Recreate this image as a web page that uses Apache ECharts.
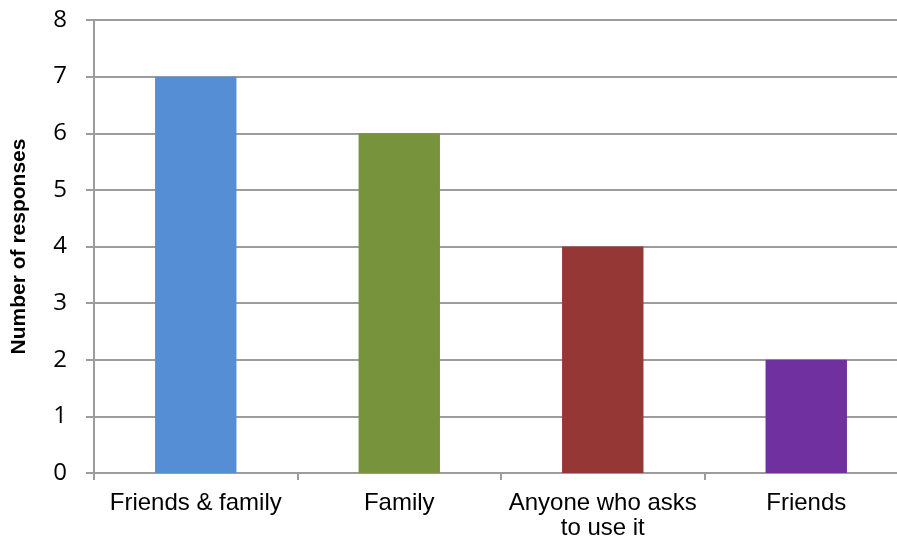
<!DOCTYPE html>
<html>
<head>
<meta charset="utf-8">
<script src="https://cdn.jsdelivr.net/npm/echarts@6/dist/echarts.min.js"></script>
<style>html,body{margin:0;padding:0;background:#fff;}#c{width:897px;height:541px;}</style>
</head>
<body>
<div id="c"></div>
<script>
const categories = ['Friends & family', 'Family', 'Anyone who asks\nto use it', 'Friends'];
const values = [7, 6, 4, 2];
const barColors = ['#558ED5', '#77933C', '#953735', '#7030A0'];
const yTitle = 'Number of responses';

const lineCol = '#9c9c9c';
const chart = echarts.init(document.getElementById('c'), null, {renderer: 'canvas'});
chart.setOption({
  animation: false,
  grid: {left: 94, right: -11, top: 20, bottom: 68, containLabel: false, outerBoundsMode: 'none'},
  xAxis: {
    type: 'category',
    data: categories,
    axisLine: {lineStyle: {color: lineCol, width: 2}},
    axisTick: {show: true, alignWithLabel: false, length: 7, lineStyle: {color: lineCol, width: 2}},
    axisLabel: {color: '#000', fontFamily: 'Liberation Sans, Arial', fontSize: 24, lineHeight: 25, margin: 18, interval: 0}
  },
  yAxis: {
    type: 'value',
    min: 0, max: 8, interval: 1,
    name: yTitle,
    nameLocation: 'middle',
    nameGap: 64,
    nameRotate: 90,
    nameTextStyle: {color: '#000', fontFamily: 'Liberation Sans, Arial', fontWeight: 'bold', fontSize: 21},
    axisLine: {show: true, lineStyle: {color: lineCol, width: 2}},
    axisTick: {show: true, length: 8, inside: false, lineStyle: {color: lineCol, width: 2}},
    splitLine: {show: true, lineStyle: {color: lineCol, width: 2}},
    axisLabel: {color: '#000', fontFamily: 'Open Sans', fontSize: 24, margin: 27}
  },
  series: [{
    type: 'bar',
    barWidth: '40%',
    data: values.map((v, i) => ({value: v, itemStyle: {color: barColors[i]}}))
  }]
});
</script>
</body>
</html>
